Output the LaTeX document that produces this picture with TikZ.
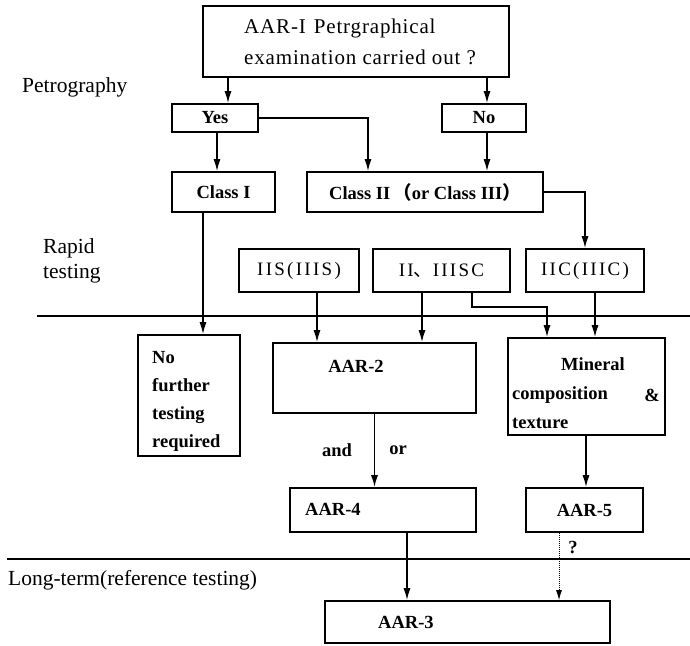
\documentclass[tikz,border=0pt]{standalone}
\usepackage{fontspec}
\setmainfont{Liberation Serif}
\newfontfamily\cjk{Noto Sans CJK SC}
\newfontfamily\spacedA[LetterSpace=4]{Liberation Serif}
\newfontfamily\spacedB[LetterSpace=12]{Liberation Serif}
\usetikzlibrary{arrows.meta}
\tikzset{
  box/.style={draw, line width=1.6pt, inner sep=0pt, rectangle},
  bt/.style={font=\bfseries\fontsize{18.5}{22}\selectfont},
  rt/.style={font=\spacedB\fontsize{19}{22}\selectfont},
  side/.style={font=\fontsize{21.5}{26}\selectfont, anchor=west, inner sep=0pt},
  arr/.style={-{Latex[length=12pt,width=7pt]}, line width=1.5pt},
  ln/.style={line width=1.5pt},
  dotarr/.style={-{Latex[length=10pt,width=6pt]}, line width=1pt, densely dotted},
}
\begin{document}
\begin{tikzpicture}[x=1pt,y=-1pt]
\useasboundingbox (0,0) rectangle (690,645);

% guides
\coordinate (xa) at (228,0);
\coordinate (xb) at (487,0);
\coordinate (xc) at (217,0);
\coordinate (xd) at (368,0);
\coordinate (xf) at (203,0);
\coordinate (xg) at (317,0);
\coordinate (xh) at (422,0);
\coordinate (xi) at (472,0);
\coordinate (xj) at (547,0);
\coordinate (yj) at (0,307);
\coordinate (xk) at (595,0);
\coordinate (xm) at (586,0);
\coordinate (xn) at (407,0);
\coordinate (xo) at (559,0);
\coordinate (h1a) at (37,316);
\coordinate (h1b) at (690,316);
\coordinate (h2a) at (7,559);
\coordinate (h2b) at (690,559);

% boxes
\node[box, minimum width=306pt, minimum height=71pt] (top) at (356,41.5) {};
\node[anchor=west, align=left, inner sep=0pt, font=\spacedA\fontsize{21}{31}\selectfont] (toptext) at (244,42)
  {AAR-I\hspace{8pt}Petrgraphical\\examination carried out ?};
\node[box, bt, minimum width=86pt, minimum height=28pt] (yes) at (215,118) {Yes};
\node[box, bt, minimum width=84pt, minimum height=28pt] (no) at (484,118) {No};
\node[box, bt, minimum width=103pt, minimum height=40pt] (cl1) at (223.5,192) {Class I};
\node[box, bt, minimum width=236pt, minimum height=40pt] (cl2) at (425,192) {Class II\,{\cjk （}or Class III{\cjk ）}};
\node[box, rt, minimum width=120pt, minimum height=43pt] (iis) at (299,270.5) {IIS(IIIS)};
\node[box, rt, minimum width=137pt, minimum height=43pt] (iisc) at (441.5,270.5) {II{\cjk 、}IIISC};
\node[box, rt, minimum width=118pt, minimum height=43pt] (iic) at (585,270.5) {IIC(IIIC)};

\node[box, minimum width=102pt, minimum height=121pt] (nof) at (189,395.5) {};
\node[anchor=west, align=left, inner sep=0pt, font=\bfseries\fontsize{18.5}{28}\selectfont] (noftext) at (152,401)
  {No\\further\\testing\\required};

\node[box, minimum width=203pt, minimum height=70pt] (aar2) at (374.5,378) {};
\node[bt, inner sep=0pt] (aar2text) at (356,366) {AAR-2};

\node[box, minimum width=157pt, minimum height=97pt] (min) at (586.5,386.5) {};
\node[bt, inner sep=0pt] (mintext1) at (593,364) {Mineral};
\node[bt, anchor=west, inner sep=0pt] (mintext2) at (512,395) {composition};
\node[bt, anchor=east, inner sep=0pt] (mintext3) at (660,395) {\&};
\node[bt, anchor=west, inner sep=0pt] (mintext4) at (512,423) {texture};

\node[box, minimum width=186pt, minimum height=44pt] (aar4) at (383,510) {};
\node[bt, anchor=west, inner sep=0pt] (aar4text) at (305,509) {AAR-4};
\node[box, bt, minimum width=117pt, minimum height=44pt] (aar5) at (584.5,510) {AAR-5};
\node[box, minimum width=285pt, minimum height=42pt] (aar3) at (467.5,622) {};
\node[bt, anchor=west, inner sep=0pt] (aar3text) at (378,622) {AAR-3};

% side labels
\node[side] (petro) at (22,87) {Petrography};
\node[side] (rapid) at (43,248) {Rapid};
\node[side] (testing) at (43,274) {testing};
\node[side] (longterm) at (8,580) {Long-term(reference testing)};

% horizontal rules
\draw[ln] (h1a) -- (h1b);
\draw[ln] (h2a) -- (h2b);

% connectors
\draw[arr] (top.south -| xa) -- (yes.north -| xa);
\draw[arr] (top.south -| xb) -- (no.north -| xb);
\draw[arr] (yes.south -| xc) -- (cl1.north -| xc);
\draw[arr] (yes.east) -| (cl2.north -| xd);
\draw[arr] (no.south -| xb) -- (cl2.north -| xb);
\draw[arr] (cl2.east) -| (iic.north);
\draw[arr] (cl1.south -| xf) -- (nof.north -| xf);
\draw[arr] (iis.south -| xg) -- (aar2.north -| xg);
\draw[arr] (iisc.south -| xh) -- (aar2.north -| xh);
\draw[arr] (iisc.south -| xi) -- (xi |- yj) -- (xj |- yj) -- (min.north -| xj);
\draw[arr] (iic.south -| xk) -- (min.north -| xk);
\draw[arr] (aar2.south) -- (aar4.north -| aar2.south);
\node[bt, inner sep=0pt] (andlbl) at (337,450) {and};
\node[bt, inner sep=0pt] (orlbl) at (398,450) {or};
\draw[arr] (min.south -| xm) -- (aar5.north -| xm);
\draw[arr] (aar4.south -| xn) -- (aar3.north -| xn);
\draw[dotarr] (aar5.south -| xo) -- (aar3.north -| xo);
\node[bt, inner sep=0pt] (qlbl) at (573,547) {?};
\end{tikzpicture}
\end{document}
